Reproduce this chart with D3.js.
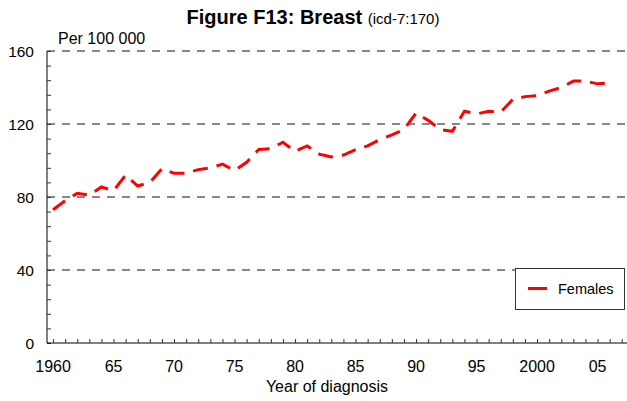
<!DOCTYPE html>
<html>
<head>
<meta charset="utf-8">
<script src="https://cdn.jsdelivr.net/npm/d3@7"></script>
<style>
  body { margin: 0; background: #fff; }
  text { font-family: "Liberation Sans", Arial, sans-serif; fill: #000; }
</style>
</head>
<body>
<div id="chart"></div>
<script>
// Data
const years = d3.range(1960, 2007);
const females = [
  73, 78, 82, 81, 85.5, 83.5, 92, 86, 88, 95.5,
  93, 93, 95, 96, 98, 94.5, 99, 106, 106.5, 110,
  105, 108, 103.5, 102, 103, 106, 108, 111.5, 114, 117,
  126, 122, 117, 116, 127, 125.5, 127, 126.5, 133.5, 135,
  135.5, 138, 140, 143.5, 143.5, 142, 142.5
];
const yTicks = [0, 40, 80, 120, 160];
const xTickLabels = ['1960', '65', '70', '75', '80', '85', '90', '95', '2000', '05'];

const W = 627, H = 401;
const plot = { left: 47, right: 627, top: 51, bottom: 343 };

const svg = d3.select('#chart')
    .append('svg')
    .attr('width', W)
    .attr('height', H);

const x = d3.scaleLinear().domain([1959.5, 2007.5]).range([plot.left, plot.left + 48 * 12.1]);
const y = d3.scaleLinear().domain([0, 160]).range([plot.bottom, plot.top]);

// Gridlines
svg.append('g')
    .selectAll('line')
    .data(yTicks.filter(d => d > 0))
    .enter()
    .append('line')
    .attr('x1', plot.left)
    .attr('x2', plot.right)
    .attr('y1', d => y(d))
    .attr('y2', d => y(d))
    .attr('stroke', '#111')
    .attr('stroke-width', 1)
    .attr('stroke-dasharray', '8,7');

// Y axis
const yAxis = svg.append('g')
    .attr('transform', `translate(${plot.left},0)`)
    .call(d3.axisRight(y).tickValues(d3.range(0, 161, 8)).tickSize(4).tickFormat(''));
yAxis.select('.domain').attr('d', `M0,${plot.top}V${plot.bottom}`);
yAxis.selectAll('line').attr('stroke', '#333');

svg.append('g')
    .selectAll('text')
    .data(yTicks)
    .enter()
    .append('text')
    .attr('x', 34)
    .attr('y', d => y(d) + 5.5)
    .attr('text-anchor', 'end')
    .attr('font-size', 15.5)
    .text(d => d);

// X axis
const xAxis = svg.append('g')
    .attr('transform', `translate(0,${plot.bottom})`)
    .call(d3.axisTop(x).tickValues(d3.range(1960, 2008)).tickSize(4).tickFormat(''));
xAxis.select('.domain').attr('d', `M${plot.left},0H${plot.right}`);
xAxis.selectAll('line').attr('stroke', '#333');

svg.append('g')
    .selectAll('text')
    .data(xTickLabels)
    .enter()
    .append('text')
    .attr('x', (d, i) => x(1960 + i * 5))
    .attr('y', 372)
    .attr('text-anchor', 'middle')
    .attr('font-size', 16)
    .text(d => d);

// Axis titles
svg.append('text')
    .attr('x', 327)
    .attr('y', 392)
    .attr('text-anchor', 'middle')
    .attr('font-size', 16)
    .text('Year of diagnosis');

svg.append('text')
    .attr('x', 58)
    .attr('y', 44)
    .attr('font-size', 16)
    .text('Per 100 000');

// Title
const title = svg.append('text')
    .attr('x', 313)
    .attr('y', 24)
    .attr('text-anchor', 'middle');
title.append('tspan')
    .attr('font-size', 20)
    .attr('font-weight', 'bold')
    .text('Figure F13: Breast ');
title.append('tspan')
    .attr('font-size', 15)
    .text('(icd-7:170)');

// Series line
const line = d3.line()
    .x((d, i) => x(years[i]))
    .y(d => y(d));

svg.append('path')
    .datum(females)
    .attr('d', line)
    .attr('fill', 'none')
    .attr('stroke', '#ff0000')
    .attr('stroke-width', 3)
    .attr('stroke-dasharray', '15,9');

// Legend
const legend = svg.append('g');
legend.append('rect')
    .attr('x', 515.5)
    .attr('y', 268.5)
    .attr('width', 109)
    .attr('height', 41)
    .attr('fill', '#fff')
    .attr('stroke', '#333')
    .attr('stroke-width', 1);
legend.append('line')
    .attr('x1', 528)
    .attr('x2', 547)
    .attr('y1', 288.5)
    .attr('y2', 288.5)
    .attr('stroke', '#ff0000')
    .attr('stroke-width', 3);
legend.append('text')
    .attr('x', 558)
    .attr('y', 294)
    .attr('font-size', 14.5)
    .text('Females');
</script>
</body>
</html>
